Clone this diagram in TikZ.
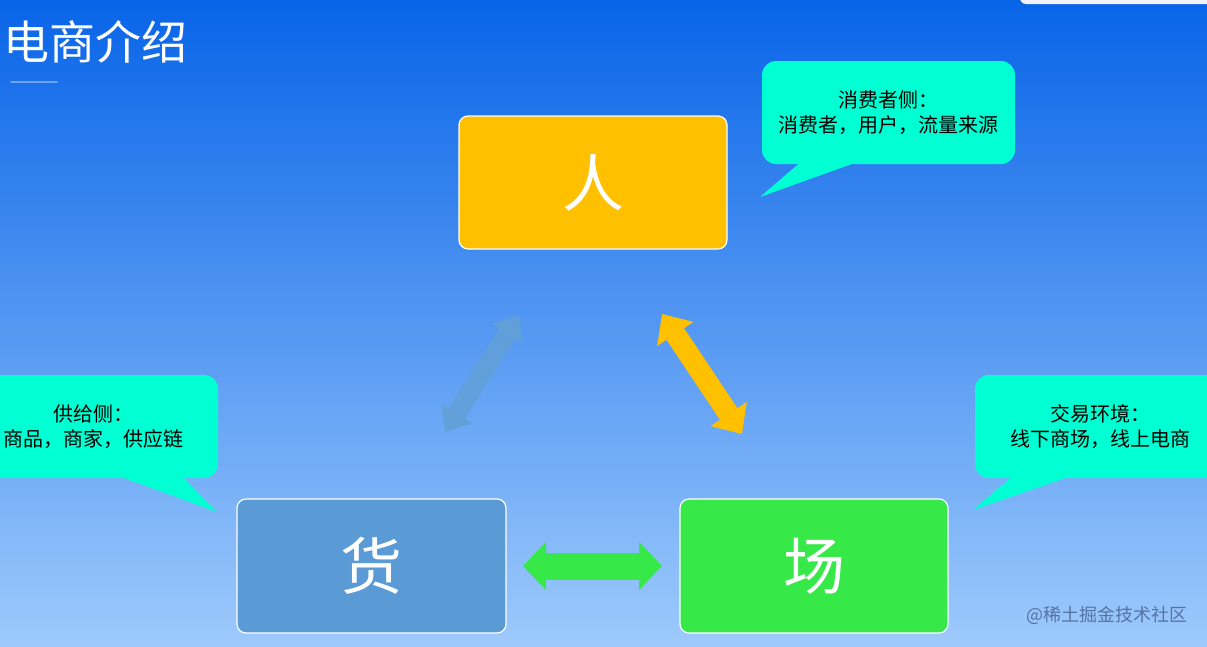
\documentclass[tikz,border=0pt]{standalone}
\usepackage{fontspec}
\newfontfamily\cjk{Noto Sans CJK SC}
\usetikzlibrary{arrows.meta}
\definecolor{bgtop}{RGB}{8,100,232}
\definecolor{bgmid}{RGB}{50,130,234}
\definecolor{bgbot}{RGB}{158,202,252}
\definecolor{callc}{RGB}{0,255,210}
\definecolor{renc}{RGB}{255,192,0}
\definecolor{huoc}{RGB}{91,155,213}
\definecolor{changc}{RGB}{54,232,72}
\definecolor{bluearr}{RGB}{98,160,215}
\definecolor{wmc}{RGB}{85,115,165}
\tikzset{
  box/.style={draw=white, line width=1.2pt, rounded corners=9pt,
    minimum width=268pt, minimum height=133pt, inner sep=0pt,
    text=white, font=\cjk\fontsize{62}{62}\selectfont},
  callout/.style={fill=callc, rounded corners=14pt, inner sep=0pt,
    minimum height=103pt, align=center, text=black,
    font=\cjk\fontsize{20}{25}\selectfont},
  fatarrow/.style={line width=#1pt},
}
\begin{document}
\begin{tikzpicture}[x=1pt,y=-1pt]
\useasboundingbox (0,0) rectangle (1207,646);
\shade[top color=bgtop, middle color=bgmid, bottom color=bgbot] (0,0) rectangle (1207,646);
% top-right white tab
\fill[white!95!blue] (1020,-10) [rounded corners=6pt] -- (1020,4) -- (1215,4) [sharp corners] -- (1215,-10) -- cycle;
% title
\node[anchor=west, text=white, font=\cjk\fontsize{46}{46}\selectfont, inner sep=0pt] (title) at (3,42) {电商介绍};
\draw[line width=2pt, color=white!40!bgtop, line cap=round] (11,82) -- (57,82);
% boxes
\node[box, fill=renc] (ren) at (593,182.5) {人};
\node[box, fill=huoc, minimum width=269pt, minimum height=134pt] (huo) at (371.5,566) {货};
\node[box, fill=changc, minimum height=134pt] (chang) at (814,566) {场};
% callouts
\node[callout, minimum width=253pt] (c1) at (888.5,112.5) {消费者侧：\\消费者，用户，流量来源};
\coordinate (t1) at (760,197);
\fill[callc] (803,160) -- (t1) -- (863,160) -- cycle;
\node[callout, minimum width=249pt] (c2) at (93.5,426.5) {供给侧：\\商品，商家，供应链};
\coordinate (t2) at (217,512);
\fill[callc] (113,474) -- (t2) -- (180,474) -- cycle;
\node[callout, minimum width=250pt] (c3) at (1100,426.5) {交易环境：\\线下商场，线上电商};
\coordinate (t3) at (973,510);
\fill[callc] (1015,474) -- (t3) -- (1077,474) -- cycle;
% arrows
\coordinate (a1) at (445,432); \coordinate (a2) at (519,315);
\draw[fatarrow=19, bluearr, opacity=0.85, {Triangle[length=22pt,width=36pt]}-{Triangle[length=22pt,width=36pt]}] (a1) -- (a2);
\coordinate (b1) at (662,314); \coordinate (b2) at (742,434);
\draw[fatarrow=21, renc, {Triangle[length=24pt,width=42pt]}-{Triangle[length=24pt,width=42pt]}] (b1) -- (b2);
\coordinate (g1) at (523,566); \coordinate (g2) at (662,566);
\draw[fatarrow=27, changc, {Triangle[length=23pt,width=47pt]}-{Triangle[length=23pt,width=47pt]}] (g1) -- (g2);
% watermark
\node[anchor=east, text=wmc, font=\cjk\fontsize{18}{18}\selectfont, inner sep=0pt] (wm) at (1188,615) {@稀土掘金技术社区};
\end{tikzpicture}
\end{document}
